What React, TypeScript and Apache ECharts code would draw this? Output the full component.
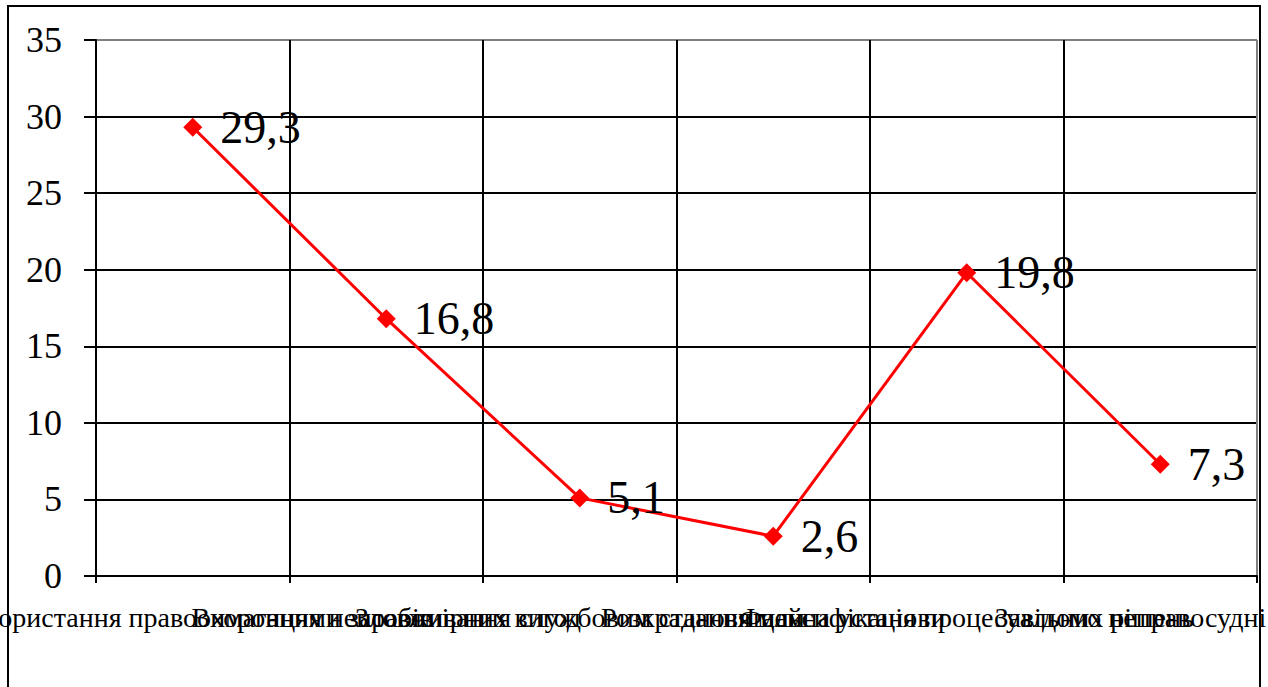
import React, { useEffect, useRef } from "react";
import * as echarts from "echarts";

const categories: string[] = [
  "Використання правоохоронцями засобів",
  "Вимагання неправомірних вигод",
  "Зловживання службовим становищем",
  "Розкрадання майна установи",
  "Фальсифікація процесуальних рішень",
  "Завідомо неправосудні акти",
];
const values: number[] = [29.3, 16.8, 5.1, 2.6, 19.8, 7.3];
const yTicks = { min: 0, max: 35, interval: 5 };

const serif = "Times New Roman";

export default function App() {
  const ref = useRef<HTMLDivElement>(null);
  useEffect(() => {
    if (!ref.current) return;
    const chart = echarts.init(ref.current, undefined, { renderer: "svg" });
    chart.setOption({
      animation: false,
      backgroundColor: "#fff",
      textStyle: { fontFamily: serif },
      grid: {
        left: 96,
        top: 40,
        right: 11,
        bottom: 111,
        containLabel: false,
        outerBoundsMode: "none",
      },
      graphic: [
        {
          type: "rect",
          shape: { x: 8, y: 6, width: 1252, height: 720 },
          style: { fill: "none", stroke: "#000", lineWidth: 2 },
          silent: true,
          z: -1,
        },
      ],
      xAxis: {
        type: "category",
        data: categories,
        boundaryGap: true,
        axisLine: { show: true, lineStyle: { color: "#000", width: 2 } },
        axisTick: { show: true, length: 7, lineStyle: { color: "#000", width: 2 }, interval: 0 },
        axisLabel: {
          interval: 0,
          margin: 27,
          color: "#000",
          fontFamily: serif,
          fontSize: 28,
          hideOverlap: false,
        },
        splitLine: {
          show: true,
          interval: 0,
          lineStyle: {
            color: ["#000", "#000", "#000", "#000", "#000", "#000", "#808080"],
            width: 2,
          },
        },
      },
      yAxis: {
        type: "value",
        min: yTicks.min,
        max: yTicks.max,
        interval: yTicks.interval,
        axisLine: { show: true, lineStyle: { color: "#000", width: 2 } },
        axisTick: { show: true, length: 12, lineStyle: { color: "#000", width: 2 } },
        axisLabel: {
          margin: 34,
          color: "#000",
          fontFamily: serif,
          fontSize: 36,
        },
        splitLine: {
          show: true,
          lineStyle: {
            color: ["#000", "#000", "#000", "#000", "#000", "#000", "#000", "#808080"],
            width: 2,
          },
        },
      },
      series: [
        {
          type: "line",
          data: values,
          symbol: "diamond",
          symbolSize: 19,
          itemStyle: { color: "#ff0000" },
          lineStyle: { color: "#ff0000", width: 3 },
          label: {
            show: true,
            position: "right",
            distance: 18,
            color: "#000",
            fontFamily: serif,
            fontSize: 46,
            formatter: (p: any) => String(p.value).replace(".", ","),
          },
        },
      ],
    });
    return () => chart.dispose();
  }, []);
  return (
    <div
      ref={ref}
      style={{ position: "fixed", left: 0, top: 0, width: 1268, height: 687 }}
    />
  );
}
